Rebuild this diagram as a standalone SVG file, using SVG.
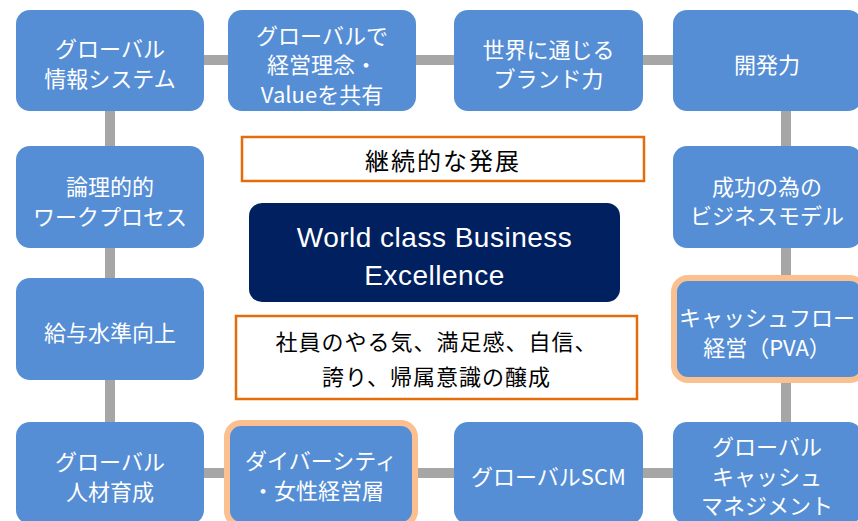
<svg xmlns="http://www.w3.org/2000/svg" width="858" height="521" viewBox="0 0 858 521">
<style>
.node{fill:#558ed5;}
.hl{stroke:#fac090;stroke-width:6;}
.t{font-family:"Noto Sans CJK JP","Noto Sans",sans-serif;font-size:22px;fill:#fff;text-anchor:middle;dominant-baseline:central;}
.c{font-family:"Noto Sans CJK JP","Noto Sans",sans-serif;fill:#000;text-anchor:middle;dominant-baseline:central;}
.box{fill:#fff;stroke:#e46c0a;stroke-width:2.5;}
.con{stroke:#a6a6a6;stroke-width:10;fill:none;}
</style>
<rect width="858" height="521" fill="#fff"/>
<g id="connectors">
<line class="con" x1="110" y1="60" x2="786" y2="60"/>
<line class="con" x1="110" y1="473" x2="786" y2="473"/>
<line class="con" x1="110" y1="60" x2="110" y2="473"/>
<line class="con" x1="786" y1="60" x2="786" y2="473"/>
</g>
<g id="n1"><rect class="node" x="16" y="10" width="188" height="101" rx="14"/>
<text class="t" x="110" y="47">グローバル</text><text class="t" x="110" y="77">情報システム</text></g>
<g id="n2"><rect class="node" x="228" y="10" width="188" height="101" rx="14"/>
<text class="t" x="322" y="33.5">グローバルで</text><text class="t" x="322" y="63">経営理念・</text><text class="t" x="322" y="92.5">Valueを共有</text></g>
<g id="n3"><rect class="node" x="454" y="10" width="189" height="101" rx="14"/>
<text class="t" x="548.5" y="47.5">世界に通じる</text><text class="t" x="548.5" y="77">ブランド力</text></g>
<g id="n4"><rect class="node" x="673" y="10" width="189" height="101" rx="14"/>
<text class="t" x="767" y="63">開発力</text></g>
<g id="n5"><rect class="node" x="16" y="146" width="188" height="102" rx="14"/>
<text class="t" x="110" y="185">論理的的</text><text class="t" x="110" y="214.5">ワークプロセス</text></g>
<g id="n6"><rect class="node" x="16" y="278" width="188" height="102" rx="14"/>
<text class="t" x="110" y="331">給与水準向上</text></g>
<g id="n7"><rect class="node" x="16" y="422" width="188" height="102" rx="14"/>
<text class="t" x="110" y="460">グローバル</text><text class="t" x="110" y="489.5">人材育成</text></g>
<g id="n8"><rect class="node hl" x="227" y="423" width="188" height="102" rx="14"/>
<text class="t" x="321" y="459">ダイバーシティ</text><text class="t" x="318" y="489">・女性経営層</text></g>
<g id="n9"><rect class="node" x="454" y="422" width="189" height="102" rx="14"/>
<text class="t" x="548.5" y="475">グローバルSCM</text></g>
<g id="n10"><rect class="node" x="673" y="422" width="189" height="102" rx="14"/>
<text class="t" x="767" y="445">グローバル</text><text class="t" x="767" y="474.5">キャッシュ</text><text class="t" x="767" y="504">マネジメント</text></g>
<g id="n11"><rect class="node" x="673" y="146" width="189" height="102" rx="14"/>
<text class="t" x="767" y="184.5">成功の為の</text><text class="t" x="767" y="214">ビジネスモデル</text></g>
<g id="n12"><rect class="node hl" x="674" y="278" width="190" height="102" rx="14"/>
<text class="t" x="767" y="316">キャッシュフロー</text><text class="t" x="767" y="345.5">経営（PVA）</text></g>
<g id="goal"><rect class="box" x="242" y="137" width="402" height="44"/>
<text class="c" x="443" y="159" font-size="24" letter-spacing="2">継続的な発展</text></g>
<g id="core"><rect x="249" y="203" width="371" height="99" rx="13" fill="#002060"/>
<text x="434.5" y="237" font-family="'Liberation Sans',Arial,sans-serif" font-size="28" letter-spacing="0.5" fill="#fff" text-anchor="middle" dominant-baseline="central">World class Business</text>
<text x="434.5" y="275" font-family="'Liberation Sans',Arial,sans-serif" font-size="28" letter-spacing="0.5" fill="#fff" text-anchor="middle" dominant-baseline="central">Excellence</text></g>
<g id="motivation"><rect class="box" x="236" y="316" width="401" height="83"/>
<text class="c" x="436.5" y="340" font-size="22" letter-spacing="1">社員のやる気、満足感、自信、</text>
<text class="c" x="436.5" y="375" font-size="22" letter-spacing="1">誇り、帰属意識の醸成</text></g>
</svg>
